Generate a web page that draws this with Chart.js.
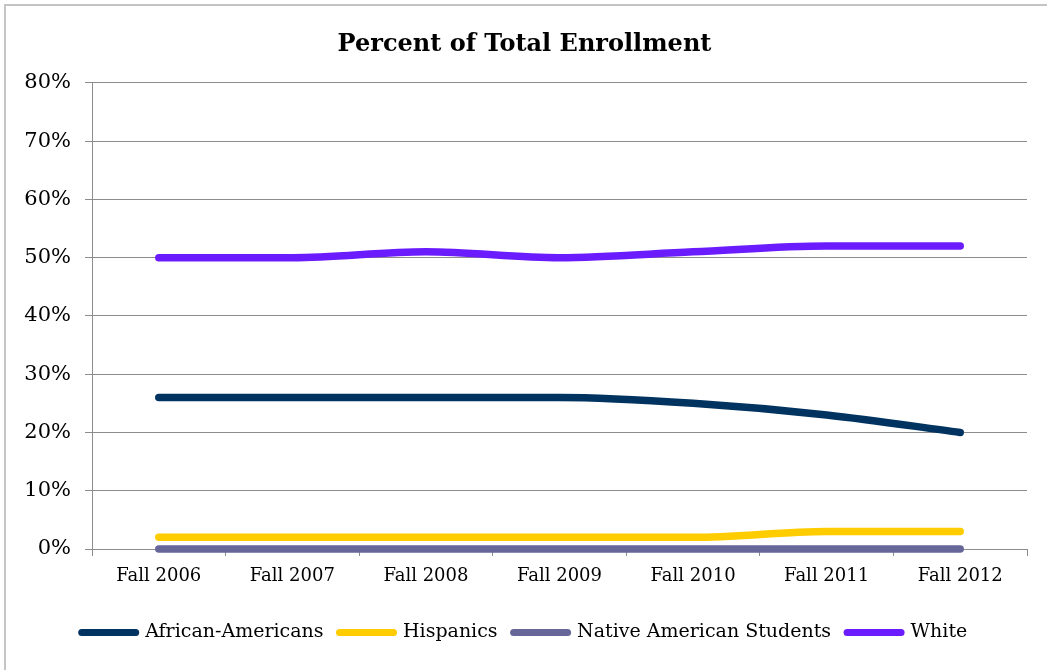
<!DOCTYPE html>
<html>
<head>
<meta charset="utf-8">
<script src="https://cdn.jsdelivr.net/npm/chart.js@4"></script>
<style>
  html, body { margin: 0; padding: 0; background: #fff; overflow: hidden; }
  #frame { position: absolute; left: 4px; top: 4px; width: 1100px; height: 700px; border: 2px solid #c4c4c4; box-sizing: border-box; }
  #wrap { position: absolute; left: 0; top: 0; width: 1047px; height: 670px; }
</style>
</head>
<body>
<div id="frame"></div>
<div id="wrap"><canvas id="c" width="1047" height="670"></canvas></div>
<script>
const categories = ["Fall 2006", "Fall 2007", "Fall 2008", "Fall 2009", "Fall 2010", "Fall 2011", "Fall 2012"];
const africanAmericans = [26, 26, 26, 26, 25, 23, 20];
const hispanics = [2, 2, 2, 2, 2, 3, 3];
const nativeAmericanStudents = [0, 0, 0, 0, 0, 0, 0];
const white = [50, 50, 51, 50, 51, 52, 52];
const yTicks = [0, 10, 20, 30, 40, 50, 60, 70, 80];

const serif = "'DejaVu Serif', serif";
function ds(label, data, color) {
  return {
    label, data,
    borderColor: color, backgroundColor: color,
    borderWidth: 7.5, borderCapStyle: 'round', borderJoinStyle: 'round',
    pointRadius: 0, pointHoverRadius: 0, cubicInterpolationMode: 'monotone', clip: false
  };
}

new Chart(document.getElementById('c'), {
  type: 'line',
  data: {
    labels: categories,
    datasets: [
      ds('African-Americans', africanAmericans, '#00335F'),
      ds('Hispanics', hispanics, '#FFCC00'),
      ds('Native American Students', nativeAmericanStudents, '#666699'),
      ds('White', white, '#6B1CFF')
    ]
  },
  options: {
    responsive: false,
    animation: false,
    events: [],
    layout: { padding: { left: 22, right: 20, top: 20, bottom: 18 } },
    plugins: {
      title: {
        display: true, text: 'Percent of Total Enrollment', color: '#000',
        font: { family: serif, size: 24, weight: 'bold' },
        padding: { top: 10, bottom: 24 }
      },
      legend: {
        position: 'bottom',
        labels: {
          usePointStyle: true, pointStyle: 'line', pointStyleWidth: 54,
          color: '#000', font: { family: serif, size: 19 }, padding: 16,
          generateLabels(chart) {
            return chart.data.datasets.map((d, i) => ({
              text: d.label, fillStyle: d.borderColor, strokeStyle: d.borderColor,
              lineWidth: 7, lineCap: 'round', pointStyle: 'line', datasetIndex: i, hidden: false
            }));
          }
        }
      },
      tooltip: { enabled: false }
    },
    scales: {
      x: {
        offset: true,
        grid: { offset: true, drawOnChartArea: false, drawTicks: true, tickLength: 7, color: '#8c8c8c' },
        border: { display: true, color: '#8c8c8c' },
        ticks: { color: '#000', font: { family: serif, size: 18 }, padding: 10, maxRotation: 0 },
        afterFit(s) { s.height = 58; }
      },
      y: {
        min: 0, max: 80,
        afterBuildTicks(s) { s.ticks = yTicks.map(v => ({ value: v })); },
        grid: { color: '#8c8c8c', tickLength: 7 },
        border: { display: true, color: '#8c8c8c' },
        ticks: { color: '#000', font: { family: serif, size: 21 }, padding: 14, callback: v => v + '%' },
        afterFit(s) { s.width = 70; }
      }
    }
  }
});
</script>
</body>
</html>
